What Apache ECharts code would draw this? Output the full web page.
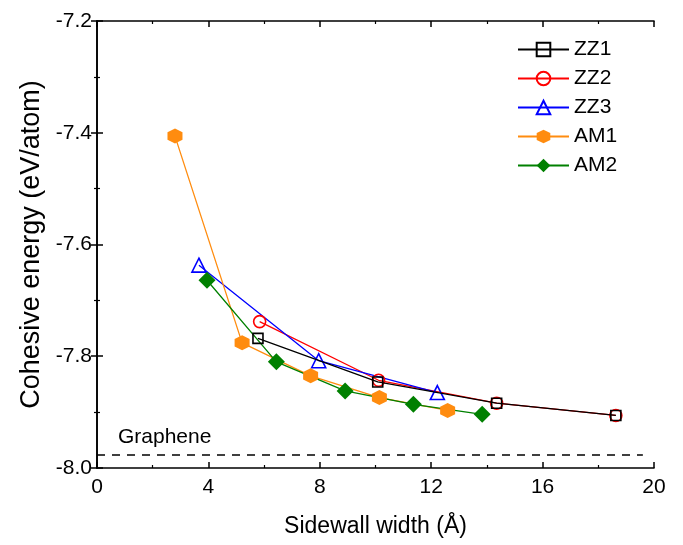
<!DOCTYPE html>
<html>
<head>
<meta charset="utf-8">
<script src="https://cdn.jsdelivr.net/npm/echarts@6/dist/echarts.min.js"></script>
<style>
  html, body { margin: 0; padding: 0; background: #fff; }
  #chart { width: 683px; height: 545px; }
</style>
</head>
<body>
<div id="chart"></div>
<script>
// Sidewall width (Å) and cohesive energy (eV/atom) for each structure
const zz1X = [5.78, 10.08, 14.35, 18.63];
const zz1Y = [-7.768, -7.846, -7.884, -7.906];
const zz2X = [5.84, 10.11, 14.35, 18.63];
const zz2Y = [-7.738, -7.843, -7.884, -7.906];
const zz3X = [3.66, 7.96, 12.22];
const zz3Y = [-7.637, -7.808, -7.865];
const am1X = [2.80, 5.21, 7.67, 10.14, 12.59];
const am1Y = [-7.406, -7.776, -7.835, -7.874, -7.897];
const am2X = [3.95, 6.44, 8.91, 11.36, 13.83];
const am2Y = [-7.664, -7.810, -7.862, -7.886, -7.904];
// Graphene reference level and the width range it is drawn over
const grapheneY = -7.977;
const grapheneX = [0, 19.6];

const FONT = '"Liberation Sans", Arial, sans-serif';
const pairs = (xs, ys) => xs.map((x, i) => [x, ys[i]]);
const hexagon = 'path://M0,-1 L0.866,-0.5 L0.866,0.5 L0,1 L-0.866,0.5 L-0.866,-0.5 Z';

const axisLine = { show: true, lineStyle: { color: '#000', width: 1.6 } };
const majorTick = { show: true, inside: true, length: 6, lineStyle: { color: '#000', width: 1.5 } };
const minorTick = { show: true, splitNumber: 2, length: 3, lineStyle: { color: '#000', width: 1.2 } };

function xAx(pos, labels) {
  return {
    type: 'value', position: pos, min: 0, max: 20, interval: 4,
    axisLine, axisTick: majorTick, minorTick: Object.assign({}, minorTick),
    splitLine: { show: false },
    axisLabel: { show: labels, color: '#000', fontFamily: FONT, fontSize: 21, margin: 9 },
    name: labels ? 'Sidewall width (Å)' : '', nameLocation: 'middle', nameGap: 47,
    nameTextStyle: { color: '#000', fontFamily: FONT, fontSize: 23 }
  };
}
function yAx(pos, labels) {
  return {
    type: 'value', position: pos, min: -8.0, max: -7.2, interval: 0.2,
    axisLine, axisTick: majorTick, minorTick: Object.assign({}, minorTick),
    splitLine: { show: false },
    axisLabel: { show: labels, color: '#000', fontFamily: FONT, fontSize: 21, margin: 5,
      formatter: v => v.toFixed(1) },
    name: labels ? 'Cohesive energy (eV/atom)' : '', nameLocation: 'middle', nameGap: 52,
    nameTextStyle: { color: '#000', fontFamily: FONT, fontSize: 27 }
  };
}

function lineSeries(name, xs, ys, color, symbol, size, filled) {
  return {
    name, type: 'line', data: pairs(xs, ys), xAxisIndex: 0, yAxisIndex: 0,
    symbol, symbolSize: size, showAllSymbol: true,
    lineStyle: { color, width: 1.3 },
    itemStyle: filled ? { color, borderWidth: 0 } : { color: 'rgba(255,255,255,0)', borderColor: color, borderWidth: 1.6 },
    emphasis: { disabled: true },
    z: 3
  };
}

const series = [
  lineSeries('ZZ1', zz1X, zz1Y, '#000000', 'rect', 10, false),
  lineSeries('ZZ2', zz2X, zz2Y, '#ff0000', 'circle', 12, false),
  lineSeries('ZZ3', zz3X, zz3Y, '#0000ff', 'triangle', 14, false),
  lineSeries('AM1', am1X, am1Y, '#ff8c0f', hexagon, 15, true),
  lineSeries('AM2', am2X, am2Y, '#008000', 'diamond', 17, true)
];
series[0].z = 4;
// Dashed graphene level with its label
series[0].markLine = {
  silent: true, symbol: 'none',
  lineStyle: { color: '#000', type: [8, 7], width: 1.6 },
  label: { show: true, position: 'insideStartTop', formatter: 'Graphene',
    color: '#000', fontFamily: FONT, fontSize: 21, distance: [21, 7] },
  data: [[{ coord: [grapheneX[0], grapheneY] }, { coord: [grapheneX[1], grapheneY] }]]
};

const chart = echarts.init(document.getElementById('chart'));
chart.setOption({
  backgroundColor: '#fff',
  animation: false,
  grid: { left: 97, right: 29, top: 21, bottom: 77 },
  xAxis: [xAx('bottom', true), xAx('top', false)],
  yAxis: [yAx('left', true), yAx('right', false)],
  legend: {
    orient: 'vertical', left: 512, top: 34,
    itemWidth: 51, itemHeight: 17, itemGap: 8,
    textStyle: { color: '#000', fontFamily: FONT, fontSize: 21 },
    data: ['ZZ1', 'ZZ2', 'ZZ3', 'AM1', 'AM2']
  },
  series
});
</script>
</body>
</html>
